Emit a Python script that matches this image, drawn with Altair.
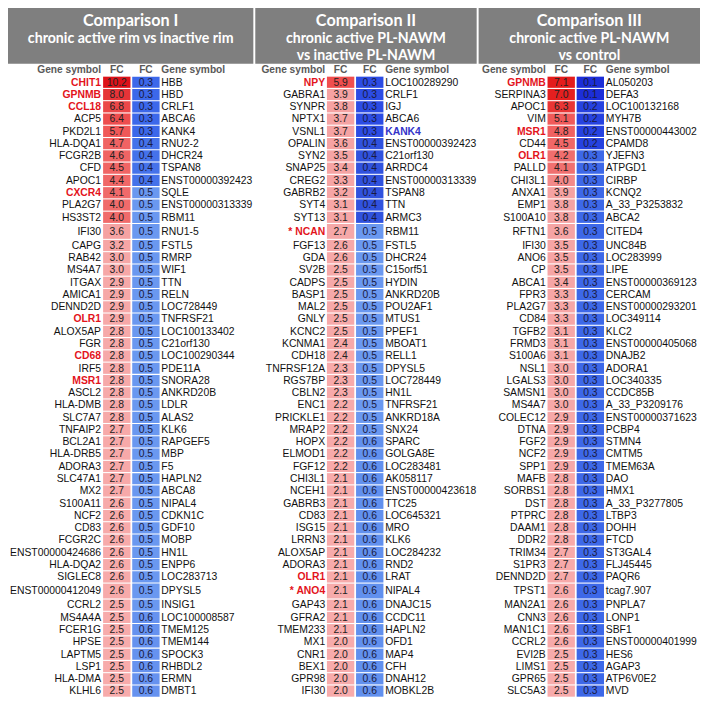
import altair as alt
import pandas as pd

# ---------------- data ----------------
titles = ["Comparison I", "Comparison II", "Comparison III"]
subtitles = [
    ["chronic active rim vs inactive rim"],
    ["chronic active PL-NAWM", "vs inactive PL-NAWM"],
    ["chronic active PL-NAWM", "vs control"],
]
col_heads = ["Gene symbol", "FC", "FC", "Gene symbol"]

p1_left = ["CHIT1", "GPNMB", "CCL18", "ACP5", "PKD2L1", "HLA-DQA1", "FCGR2B", "CFD", "APOC1", "CXCR4",
           "PLA2G7", "HS3ST2", "IFI30", "CAPG", "RAB42", "MS4A7", "ITGAX", "AMICA1", "DENND2D", "OLR1",
           "ALOX5AP", "FGR", "CD68", "IRF5", "MSR1", "ASCL2", "HLA-DMB", "SLC7A7", "TNFAIP2", "BCL2A1",
           "HLA-DRB5", "ADORA3", "SLC47A1", "MX2", "S100A11", "NCF2", "CD83", "FCGR2C", "ENST00000424686", "HLA-DQA2",
           "SIGLEC8", "ENST00000412049", "CCRL2", "MS4A4A", "FCER1G", "HPSE", "LAPTM5", "LSP1", "HLA-DMA", "KLHL6"]
p1_up = [10.2, 8.0, 6.8, 6.4, 5.7, 4.7, 4.6, 4.5, 4.4, 4.1,
         4.0, 4.0, 3.6, 3.2, 3.0, 3.0, 2.9, 2.9, 2.9, 2.9,
         2.8, 2.8, 2.8, 2.8, 2.8, 2.8, 2.8, 2.8, 2.7, 2.7,
         2.7, 2.7, 2.7, 2.7, 2.6, 2.6, 2.6, 2.6, 2.6, 2.6,
         2.6, 2.6, 2.5, 2.5, 2.5, 2.5, 2.5, 2.5, 2.5, 2.5]
p1_down = [0.3, 0.3, 0.3, 0.3, 0.3, 0.4, 0.4, 0.4, 0.4, 0.5,
           0.5, 0.5, 0.5, 0.5, 0.5, 0.5, 0.5, 0.5, 0.5, 0.5,
           0.5, 0.5, 0.5, 0.5, 0.5, 0.5, 0.5, 0.5, 0.5, 0.5,
           0.5, 0.5, 0.5, 0.5, 0.5, 0.5, 0.5, 0.5, 0.5, 0.5,
           0.5, 0.5, 0.5, 0.6, 0.6, 0.6, 0.6, 0.6, 0.6, 0.6]
p1_right = ["HBB", "HBD", "CRLF1", "ABCA6", "KANK4", "RNU2-2", "DHCR24", "TSPAN8", "ENST00000392423", "SQLE",
            "ENST00000313339", "RBM11", "RNU1-5", "FSTL5", "RMRP", "WIF1", "TTN", "RELN", "LOC728449", "TNFRSF21",
            "LOC100133402", "C21orf130", "LOC100290344", "PDE11A", "SNORA28", "ANKRD20B", "LDLR", "ALAS2", "KLK6", "RAPGEF5",
            "MBP", "F5", "HAPLN2", "ABCA8", "NIPAL4", "CDKN1C", "GDF10", "MOBP", "HN1L", "ENPP6",
            "LOC283713", "DPYSL5", "INSIG1", "LOC100008587", "TMEM125", "TMEM144", "SPOCK3", "RHBDL2", "ERMN", "DMBT1"]
p1_hl_left = ["CHIT1", "GPNMB", "CCL18", "CXCR4", "OLR1", "CD68", "MSR1"]
p1_hl_right = []

p2_left = ["NPY", "GABRA1", "SYNPR", "NPTX1", "VSNL1", "OPALIN", "SYN2", "SNAP25", "CREG2", "GABRB2",
           "SYT4", "SYT13", "* NCAN", "FGF13", "GDA", "SV2B", "CADPS", "BASP1", "MAL2", "GNLY",
           "KCNC2", "KCNMA1", "CDH18", "TNFRSF12A", "RGS7BP", "CBLN2", "ENC1", "PRICKLE1", "MRAP2", "HOPX",
           "ELMOD1", "FGF12", "CHI3L1", "NCEH1", "GABRB3", "CD83", "ISG15", "LRRN3", "ALOX5AP", "ADORA3",
           "OLR1", "* ANO4", "GAP43", "GFRA2", "TMEM233", "MX1", "CNR1", "BEX1", "GPR98", "IFI30"]
p2_up = [5.9, 3.9, 3.8, 3.7, 3.7, 3.6, 3.5, 3.4, 3.3, 3.2,
         3.1, 3.1, 2.7, 2.6, 2.6, 2.5, 2.5, 2.5, 2.5, 2.5,
         2.5, 2.4, 2.4, 2.3, 2.3, 2.3, 2.2, 2.2, 2.2, 2.2,
         2.2, 2.2, 2.1, 2.1, 2.1, 2.1, 2.1, 2.1, 2.1, 2.1,
         2.1, 2.1, 2.1, 2.1, 2.1, 2.0, 2.0, 2.0, 2.0, 2.0]
p2_down = [0.3, 0.3, 0.3, 0.3, 0.3, 0.4, 0.4, 0.4, 0.4, 0.4,
           0.4, 0.4, 0.5, 0.5, 0.5, 0.5, 0.5, 0.5, 0.5, 0.5,
           0.5, 0.5, 0.5, 0.5, 0.5, 0.5, 0.5, 0.5, 0.5, 0.6,
           0.6, 0.6, 0.6, 0.6, 0.6, 0.6, 0.6, 0.6, 0.6, 0.6,
           0.6, 0.6, 0.6, 0.6, 0.6, 0.6, 0.6, 0.6, 0.6, 0.6]
p2_right = ["LOC100289290", "CRLF1", "IGJ", "ABCA6", "KANK4", "ENST00000392423", "C21orf130", "ARRDC4", "ENST00000313339", "TSPAN8",
            "TTN", "ARMC3", "RBM11", "FSTL5", "DHCR24", "C15orf51", "HYDIN", "ANKRD20B", "POU2AF1", "MTUS1",
            "PPEF1", "MBOAT1", "RELL1", "DPYSL5", "LOC728449", "HN1L", "TNFRSF21", "ANKRD18A", "SNX24", "SPARC",
            "GOLGA8E", "LOC283481", "AK058117", "ENST00000423618", "TTC25", "LOC645321", "MRO", "KLK6", "LOC284232", "RND2",
            "LRAT", "NIPAL4", "DNAJC15", "CCDC11", "HAPLN2", "OFD1", "MAP4", "CFH", "DNAH12", "MOBKL2B"]
p2_hl_left = ["NPY", "* NCAN", "OLR1", "* ANO4"]
p2_hl_right = ["KANK4"]

p3_left = ["GPNMB", "SERPINA3", "APOC1", "VIM", "MSR1", "CD44", "OLR1", "PALLD", "CHI3L1", "ANXA1",
           "EMP1", "S100A10", "RFTN1", "IFI30", "ANO6", "CP", "ABCA1", "FPR3", "PLA2G7", "CD84",
           "TGFB2", "FRMD3", "S100A6", "NSL1", "LGALS3", "SAMSN1", "MS4A7", "COLEC12", "DTNA", "FGF2",
           "NCF2", "SPP1", "MAFB", "SORBS1", "DST", "PTPRC", "DAAM1", "DDR2", "TRIM34", "S1PR3",
           "DENND2D", "TPST1", "MAN2A1", "CNN3", "MAN1C1", "CCRL2", "EVI2B", "LIMS1", "GPR65", "SLC5A3"]
p3_up = [7.1, 7.0, 6.3, 5.1, 4.8, 4.5, 4.2, 4.1, 4.0, 3.9,
         3.8, 3.8, 3.6, 3.5, 3.5, 3.5, 3.4, 3.3, 3.3, 3.3,
         3.1, 3.1, 3.1, 3.0, 3.0, 3.0, 3.0, 2.9, 2.9, 2.9,
         2.9, 2.9, 2.8, 2.8, 2.8, 2.8, 2.8, 2.8, 2.7, 2.7,
         2.7, 2.6, 2.6, 2.6, 2.6, 2.6, 2.5, 2.5, 2.5, 2.5]
p3_down = [0.1, 0.1, 0.2, 0.2, 0.2, 0.2, 0.3, 0.3, 0.3, 0.3,
           0.3, 0.3, 0.3, 0.3, 0.3, 0.3, 0.3, 0.3, 0.3, 0.3,
           0.3, 0.3, 0.3, 0.3, 0.3, 0.3, 0.3, 0.3, 0.3, 0.3,
           0.3, 0.3, 0.3, 0.3, 0.3, 0.3, 0.3, 0.3, 0.3, 0.3,
           0.3, 0.3, 0.3, 0.3, 0.3, 0.3, 0.3, 0.3, 0.3, 0.3]
p3_right = ["AL050203", "DEFA3", "LOC100132168", "MYH7B", "ENST00000443002", "CPAMD8", "YJEFN3", "ATPGD1", "CIRBP", "KCNQ2",
            "A_33_P3253832", "ABCA2", "CITED4", "UNC84B", "LOC283999", "LIPE", "ENST00000369123", "CERCAM", "ENST00000293201", "LOC349114",
            "KLC2", "ENST00000405068", "DNAJB2", "ADORA1", "LOC340335", "CCDC85B", "A_33_P3209176", "ENST00000371623", "PCBP4", "STMN4",
            "CMTM5", "TMEM63A", "DAO", "HMX1", "A_33_P3277805", "LTBP3", "DOHH", "FTCD", "ST3GAL4", "FLJ45445",
            "PAQR6", "tcag7.907", "PNPLA7", "LONP1", "SBF1", "ENST00000401999", "HES6", "AGAP3", "ATP6V0E2", "MVD"]
p3_hl_left = ["GPNMB", "MSR1", "OLR1"]
p3_hl_right = []

panels = [
    (p1_left, p1_up, p1_down, p1_right, p1_hl_left, p1_hl_right),
    (p2_left, p2_up, p2_down, p2_right, p2_hl_left, p2_hl_right),
    (p3_left, p3_up, p3_down, p3_right, p3_hl_left, p3_hl_right),
]

# colour scales (per panel, like spreadsheet conditional formatting)
red_domains = [[2.5, 3.6, 4.0, 5.7, 10.2], [2.0, 3.9, 5.9], [2.5, 3.9, 4.1, 5.1, 7.1]]
red_ranges = [["#f7abab", "#f5a2a2", "#f06b6b", "#f05858", "#dd1219"],
              ["#f7abab", "#f5a2a2", "#f04e4e"],
              ["#f7abab", "#f5a2a2", "#f07070", "#f05a5a", "#e41c1c"]]
blue_domains = [[0.3, 0.4, 0.5, 0.6], [0.3, 0.4, 0.5, 0.6], [0.1, 0.2, 0.3]]
blue_ranges = [["#3c68ea", "#4572ea", "#6a98f0", "#6692ef"],
               ["#2c4ce4", "#3052de", "#6a98f0", "#6190ee"],
               ["#1c2ed8", "#2642e0", "#3d68e8"]]

# ---------------- layout (reference-pixel units) ----------------
REF_W, REF_H = 708, 707
W, H = 692, 691
S = W / REF_W
PANEL_X = [(0, 251), (253, 479.5), (481.5, 708)]
NAME_END = [95.2, 324.5, 550.2]
CELL_X = [97.3, 326.3, 552.0]
CELL_W = 28.0
CELL_GAP = 1.8
NAME_PAD = 1.8
ROW_TOP0 = 69.7
ROW_H = 12.56
TALL_H = 16.3
TALL_ROWS = {12, 41}
HEADER_BOTTOM = 57.0
TITLE_Y = 12.8
SUB_Y = [31.5, 49.5]
COLHEAD_Y = 63.3

rows = []
for pi, (left, up, down, right, hl_l, hl_r) in enumerate(panels):
    y = ROW_TOP0
    xr0 = CELL_X[pi]
    xb0 = xr0 + CELL_W + CELL_GAP
    for i in range(len(left)):
        h = TALL_H if i in TALL_ROWS else ROW_H
        rows.append(dict(
            panel=pi, left=left[i], up=up[i], down=down[i], right=right[i],
            hl_left=left[i] in hl_l, hl_right=right[i] in hl_r,
            y0=y + 0.55, y1=y + h - 0.55, ym=y + h / 2 + 0.3,
            xname=NAME_END[pi], xr0=xr0, xr1=xr0 + CELL_W, xrm=xr0 + CELL_W / 2,
            xb0=xb0, xb1=xb0 + CELL_W, xbm=xb0 + CELL_W / 2,
            xrn=xb0 + CELL_W + NAME_PAD,
        ))
        y += h
df = pd.DataFrame(rows)

hdr = pd.DataFrame([dict(x0=a, x1=b, y0=0, y1=HEADER_BOTTOM) for a, b in PANEL_X])
tdf = pd.DataFrame([dict(x=(a + b) / 2, y=TITLE_Y, text=t) for (a, b), t in zip(PANEL_X, titles)])
sdf = pd.DataFrame([dict(x=(a + b) / 2, y=SUB_Y[j], text=s)
                    for (a, b), subs in zip(PANEL_X, subtitles) for j, s in enumerate(subs)])
ch = []
for pi in range(3):
    xr0 = CELL_X[pi]
    xb0 = xr0 + CELL_W + CELL_GAP
    ch.append(dict(x=NAME_END[pi], y=COLHEAD_Y, text=col_heads[0], kind="right"))
    ch.append(dict(x=xr0 + CELL_W / 2, y=COLHEAD_Y, text=col_heads[1], kind="center"))
    ch.append(dict(x=xb0 + CELL_W / 2, y=COLHEAD_Y, text=col_heads[2], kind="center"))
    ch.append(dict(x=xb0 + CELL_W + NAME_PAD, y=COLHEAD_Y, text=col_heads[3], kind="left"))
chdf = pd.DataFrame(ch)

xs = alt.Scale(domain=[0, REF_W], nice=False, zero=False)
ys = alt.Scale(domain=[0, REF_H], nice=False, zero=False, reverse=True)


def X(f):
    return alt.X(f, scale=xs, axis=None)


def Y(f):
    return alt.Y(f, scale=ys, axis=None)


NAME_FONT = "Liberation Sans"
TITLE_FONT = "Lato"
FS = 10.6 * S

layers = []
layers.append(alt.Chart(hdr).mark_rect(color="#7f7f7f").encode(x=X("x0:Q"), x2="x1:Q", y=Y("y0:Q"), y2="y1:Q"))
layers.append(alt.Chart(tdf).mark_text(font=TITLE_FONT, fontWeight="bold", fontSize=16.6 * S, color="white",
                                       baseline="middle", align="center").encode(x=X("x:Q"), y=Y("y:Q"), text="text:N"))
layers.append(alt.Chart(sdf).mark_text(font=TITLE_FONT, fontWeight="bold", fontSize=14.5 * S, color="white",
                                       baseline="middle", align="center").encode(x=X("x:Q"), y=Y("y:Q"), text="text:N"))
for kind in ["right", "center", "left"]:
    layers.append(alt.Chart(chdf).transform_filter(f"datum.kind == '{kind}'").mark_text(
        font=NAME_FONT, fontWeight="bold", fontSize=10.4 * S, color="#595959", baseline="middle", align=kind
    ).encode(x=X("x:Q"), y=Y("y:Q"), text="text:N"))

for pi in range(3):
    layers.append(alt.Chart(df).transform_filter(f"datum.panel == {pi}").mark_rect().encode(
        x=X("xr0:Q"), x2="xr1:Q", y=Y("y0:Q"), y2="y1:Q",
        color=alt.Color("up:Q", legend=None,
                        scale=alt.Scale(domain=red_domains[pi], range=red_ranges[pi], interpolate="rgb", clamp=True))))
    layers.append(alt.Chart(df).transform_filter(f"datum.panel == {pi}").mark_rect().encode(
        x=X("xb0:Q"), x2="xb1:Q", y=Y("y0:Q"), y2="y1:Q",
        color=alt.Color("down:Q", legend=None,
                        scale=alt.Scale(domain=blue_domains[pi], range=blue_ranges[pi], interpolate="rgb", clamp=True))))

layers.append(alt.Chart(df).mark_text(font=NAME_FONT, fontSize=FS, color="#222222", baseline="middle", align="center")
              .encode(x=X("xrm:Q"), y=Y("ym:Q"), text=alt.Text("up:Q", format=".1f")))
layers.append(alt.Chart(df).mark_text(font=NAME_FONT, fontSize=FS, color="#1a1a40", baseline="middle", align="center")
              .encode(x=X("xbm:Q"), y=Y("ym:Q"), text=alt.Text("down:Q", format=".1f")))

layers.append(alt.Chart(df).transform_filter("!datum.hl_left").mark_text(
    font=NAME_FONT, fontSize=FS, color="#111111", baseline="middle", align="right"
).encode(x=X("xname:Q"), y=Y("ym:Q"), text="left:N"))
layers.append(alt.Chart(df).transform_filter("datum.hl_left").mark_text(
    font=NAME_FONT, fontSize=FS, fontWeight="bold", color="#e3141c", baseline="middle", align="right"
).encode(x=X("xname:Q"), y=Y("ym:Q"), text="left:N"))
layers.append(alt.Chart(df).transform_filter("!datum.hl_right").mark_text(
    font=NAME_FONT, fontSize=FS, color="#111111", baseline="middle", align="left"
).encode(x=X("xrn:Q"), y=Y("ym:Q"), text="right:N"))
layers.append(alt.Chart(df).transform_filter("datum.hl_right").mark_text(
    font=NAME_FONT, fontSize=FS, fontWeight="bold", color="#3434c8", baseline="middle", align="left"
).encode(x=X("xrn:Q"), y=Y("ym:Q"), text="right:N"))

chart = alt.layer(*layers).resolve_scale(color="independent").properties(
    width=W, height=H, padding=0, autosize=alt.AutoSizeParams(type="none"), background="white"
).configure_view(stroke=None)

chart.save("out.html", embed_options={"renderer": "svg", "actions": False})
